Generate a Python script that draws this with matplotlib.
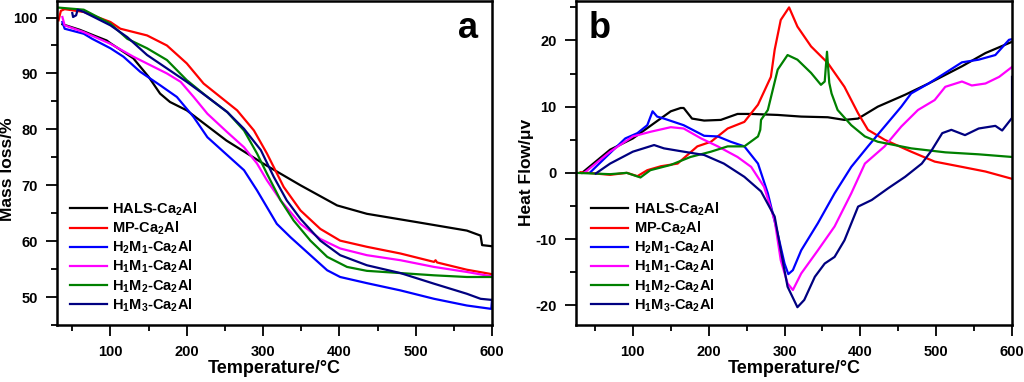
import numpy as np
import matplotlib
matplotlib.use("Agg")
import matplotlib.pyplot as plt
from matplotlib.ticker import MultipleLocator

plt.rcParams['font.family'] = ['Liberation Sans', 'DejaVu Sans']
plt.rcParams['font.weight'] = 'bold'
plt.rcParams['mathtext.fontset'] = 'custom'
plt.rcParams['mathtext.bf'] = 'Liberation Sans:bold'
plt.rcParams['mathtext.rm'] = 'Liberation Sans:bold'
plt.rcParams['mathtext.default'] = 'bf'
plt.rcParams['axes.unicode_minus'] = False

labels = ["HALS-Ca$_2$Al", "MP-Ca$_2$Al", "H$_2$M$_1$-Ca$_2$Al",
          "H$_1$M$_1$-Ca$_2$Al", "H$_1$M$_2$-Ca$_2$Al", "H$_1$M$_3$-Ca$_2$Al"]
colors = ["black", "#ff0000", "#0000ff", "#ff00ff", "#008000", "#000080"]

# ---- panel a: TGA (temperature, mass %) ----
hals_t = [37, 60, 80, 95, 100, 130, 150, 165, 178, 200, 252, 300, 349, 397, 436, 502, 567, 585, 587, 600]
hals_m = [98.8, 97.8, 96.7, 95.9, 95.4, 92.7, 89.4, 86.4, 84.9, 83.4, 78.0, 73.9, 70.0, 66.4, 64.9, 63.4, 61.9, 61.0, 59.3, 59.1]
mp_t = [32, 35, 40, 65, 100, 113, 148, 174, 200, 222, 244, 266, 288, 305, 327, 349, 375, 401, 436, 480, 524, 526, 528, 567, 600]
mp_m = [99.5, 101.2, 101.5, 101.0, 99.2, 98.0, 96.8, 95.0, 91.8, 88.2, 85.8, 83.4, 79.8, 75.7, 69.7, 65.5, 62.2, 60.1, 59.0, 57.8, 56.3, 56.6, 56.2, 54.9, 54.1]
h2m1_t = [37, 40, 65, 76, 100, 117, 139, 165, 187, 209, 227, 253, 275, 292, 305, 318, 336, 362, 384, 401, 436, 480, 524, 567, 599, 600]
h2m1_m = [99.2, 98.0, 97.1, 96.2, 94.5, 93.0, 90.3, 87.9, 85.8, 82.2, 78.6, 75.4, 72.7, 69.1, 66.1, 63.1, 60.7, 57.5, 54.8, 53.6, 52.5, 51.2, 49.7, 48.5, 47.9, 49.5]
h1m1_t = [37, 40, 65, 100, 130, 152, 174, 192, 209, 227, 253, 275, 292, 305, 323, 349, 375, 401, 436, 480, 524, 567, 600]
h1m1_m = [100.1, 98.6, 97.4, 95.3, 93.0, 91.5, 90.0, 88.5, 85.8, 82.8, 79.5, 76.8, 73.9, 70.9, 67.3, 63.1, 60.4, 58.7, 57.5, 56.6, 55.4, 54.5, 53.7]
h1m2_t = [30, 65, 100, 122, 148, 174, 200, 227, 253, 275, 292, 305, 323, 340, 362, 384, 410, 436, 480, 524, 567, 600]
h1m2_m = [101.8, 101.4, 98.9, 96.2, 94.5, 92.4, 88.8, 85.8, 83.1, 79.8, 75.7, 72.1, 67.3, 63.7, 60.1, 57.2, 55.4, 54.7, 54.3, 53.9, 53.6, 53.6]
h1m3_t = [50, 51, 55, 57, 65, 100, 122, 148, 174, 200, 227, 253, 275, 297, 314, 331, 349, 375, 401, 436, 480, 524, 567, 585, 600]
h1m3_m = [100.8, 100.1, 100.4, 101.4, 101.0, 98.6, 96.5, 93.3, 90.9, 88.5, 85.8, 83.1, 80.1, 76.3, 71.5, 67.3, 64.0, 60.1, 57.5, 55.7, 54.3, 52.4, 50.6, 49.7, 49.5]

# ---- panel b: DTA (temperature, heat flow) ----
hals_bt = [33, 70, 100, 128, 150, 163, 167, 178, 194, 216, 238, 256, 291, 322, 357, 379, 397, 423, 459, 490, 534, 565, 600]
hals_bh = [0.0, 3.5, 5.2, 7.5, 9.3, 9.8, 9.8, 8.2, 7.9, 8.0, 8.9, 8.9, 8.75, 8.5, 8.4, 8.0, 8.2, 10.0, 11.8, 13.5, 16.1, 18.1, 19.8]
mp_bt = [31, 70, 92, 106, 119, 137, 159, 185, 203, 225, 247, 265, 282, 287, 295, 306, 317, 335, 357, 379, 397, 410, 432, 467, 498, 534, 565, 600]
mp_bh = [0.1, -0.3, 0.0, -0.5, 0.4, 1.0, 1.4, 4.0, 4.7, 6.7, 7.7, 10.3, 14.5, 18.6, 23.1, 25.0, 22.1, 19.1, 16.6, 13.0, 9.0, 6.5, 5.0, 3.2, 1.7, 0.9, 0.2, -0.9]
h2m1_bt = [44, 70, 90, 106, 119, 126, 132, 141, 167, 194, 212, 229, 247, 265, 278, 291, 300, 305, 311, 322, 344, 366, 388, 410, 432, 454, 467, 490, 512, 534, 556, 578, 596, 600]
h2m1_bh = [0.1, 3.0, 5.2, 6.0, 7.2, 9.3, 8.5, 8.2, 7.2, 5.6, 5.5, 4.7, 4.0, 1.4, -3.1, -9.2, -13.7, -15.3, -14.7, -11.7, -7.6, -3.1, 0.9, 4.0, 7.0, 10.0, 12.0, 13.5, 15.1, 16.7, 17.1, 17.8, 20.1, 20.2]
h1m1_bt = [37, 70, 100, 123, 150, 167, 190, 212, 238, 256, 273, 287, 295, 304, 311, 322, 344, 366, 388, 406, 432, 454, 476, 498, 512, 534, 547, 565, 583, 600]
h1m1_bh = [0.1, 3.2, 5.5, 6.2, 6.9, 6.7, 5.2, 4.0, 2.4, 0.9, -2.1, -7.2, -13.2, -16.7, -17.7, -15.2, -11.7, -8.1, -3.1, 1.4, 4.0, 7.0, 9.5, 11.0, 13.0, 13.8, 13.2, 13.5, 14.5, 16.0]
h1m2_bt = [25, 70, 92, 110, 123, 150, 176, 203, 225, 247, 265, 268, 269, 278, 291, 304, 317, 335, 348, 353, 356, 359, 362, 370, 388, 406, 423, 467, 512, 556, 600]
h1m2_bh = [0.0, -0.2, 0.0, -0.7, 0.4, 1.2, 2.4, 3.2, 4.0, 4.0, 5.5, 6.5, 8.0, 9.5, 15.6, 17.8, 17.1, 15.1, 13.3, 13.8, 18.3, 13.6, 12.0, 9.5, 7.2, 5.5, 4.7, 3.7, 3.1, 2.8, 2.4]
h1m3_bt = [51, 70, 100, 114, 128, 141, 167, 194, 220, 247, 269, 287, 295, 304, 317, 326, 340, 353, 366, 379, 397, 415, 437, 459, 481, 494, 508, 520, 538, 556, 578, 587, 600, 600]
h1m3_bh = [-0.1, 1.4, 3.2, 3.7, 4.2, 3.7, 3.2, 2.7, 1.4, -0.6, -2.8, -6.6, -11.7, -17.2, -20.3, -19.2, -15.7, -13.7, -12.7, -10.2, -5.1, -4.1, -2.3, -0.6, 1.4, 3.4, 6.0, 6.5, 5.7, 6.7, 7.1, 6.4, 8.3, 14.5]

tga = [(hals_t, hals_m), (mp_t, mp_m), (h2m1_t, h2m1_m),
       (h1m1_t, h1m1_m), (h1m2_t, h1m2_m), (h1m3_t, h1m3_m)]
dta = [(hals_bt, hals_bh), (mp_bt, mp_bh), (h2m1_bt, h2m1_bh),
       (h1m1_bt, h1m1_bh), (h1m2_bt, h1m2_bh), (h1m3_bt, h1m3_bh)]


def style_axis(ax):
    for s in ax.spines.values():
        s.set_linewidth(1.8)
    ax.tick_params(which='both', direction='out', top=False, right=False,
                   width=1.3, labelsize=10.5)
    ax.tick_params(which='major', length=8, pad=6)
    ax.tick_params(which='minor', length=4.5)
    ax.xaxis.set_major_locator(MultipleLocator(100))
    ax.xaxis.set_minor_locator(MultipleLocator(50))
    ax.yaxis.set_major_locator(MultipleLocator(10))
    ax.yaxis.set_minor_locator(MultipleLocator(5))
    ax.set_xlabel("Temperature/°C", fontsize=13, fontweight='bold', labelpad=1)


def add_legend(ax, x0):
    ax.legend(loc='lower left', bbox_to_anchor=(x0, 0.035), frameon=False,
              fontsize=10.5, handlelength=2.5, handletextpad=0.4,
              labelspacing=0.12, borderpad=0, borderaxespad=0)


fig = plt.figure(figsize=(10.24, 3.82), dpi=100)
ax1 = fig.add_axes([0.0557, 0.149, 0.4248, 0.849])
ax2 = fig.add_axes([0.5625, 0.149, 0.4258, 0.849])

for (x, y), c, lab in zip(tga, colors, labels):
    ax1.plot(x, y, color=c, lw=1.6, label=lab)
ax1.set_xlim(30, 600)
ax1.set_ylim(45, 103)
style_axis(ax1)
ax1.set_ylabel("Mass loss/%", fontsize=12.5, fontweight='bold')
ax1.yaxis.set_label_coords(-0.097, 0.48)
ax1.text(0.945, 0.915, "a", transform=ax1.transAxes, fontsize=26,
         fontweight='bold', ha='center', va='center')
add_legend(ax1, 0.03)

for (x, y), c, lab in zip(dta, colors, labels):
    ax2.plot(x, y, color=c, lw=1.6, label=lab)
ax2.set_xlim(25, 600)
ax2.set_ylim(-23, 26)
style_axis(ax2)
ax2.set_ylabel("Heat Flow/μv", fontsize=12.5, fontweight='bold')
ax2.yaxis.set_label_coords(-0.096, 0.47)
ax2.text(0.055, 0.915, "b", transform=ax2.transAxes, fontsize=26,
         fontweight='bold', ha='center', va='center')
add_legend(ax2, 0.035)

plt.savefig("out.png", dpi=100)
